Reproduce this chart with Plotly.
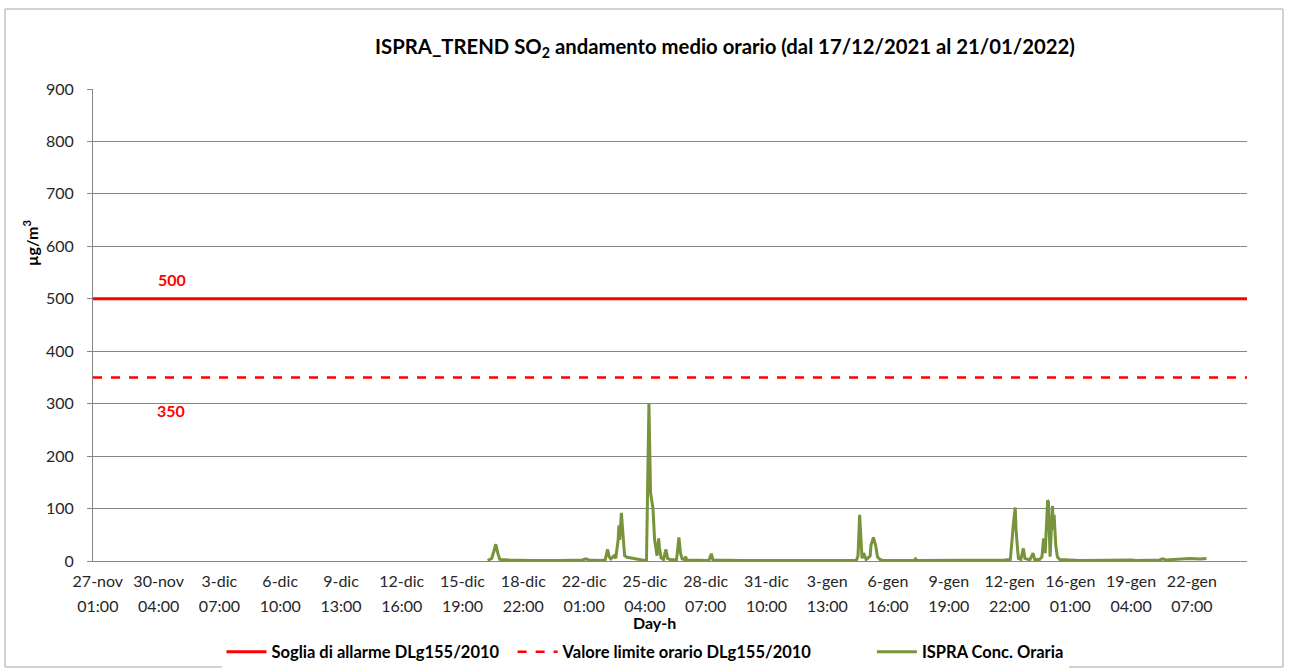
import plotly.graph_objects as go

# ---------------- data ----------------
tick_times = ["2021-11-27 01:00", "2021-11-30 04:00", "2021-12-03 07:00", "2021-12-06 10:00",
              "2021-12-09 13:00", "2021-12-12 16:00", "2021-12-15 19:00", "2021-12-18 22:00",
              "2021-12-22 01:00", "2021-12-25 04:00", "2021-12-28 07:00", "2021-12-31 10:00",
              "2022-01-03 13:00", "2022-01-06 16:00", "2022-01-09 19:00", "2022-01-12 22:00",
              "2022-01-16 01:00", "2022-01-19 04:00", "2022-01-22 07:00"]
tick_days = ["27-nov", "30-nov", "3-dic", "6-dic", "9-dic", "12-dic", "15-dic", "18-dic",
             "22-dic", "25-dic", "28-dic", "31-dic", "3-gen", "6-gen", "9-gen", "12-gen",
             "16-gen", "19-gen", "22-gen"]
tick_hours = ["01:00", "04:00", "07:00", "10:00", "13:00", "16:00", "19:00", "22:00",
              "01:00", "04:00", "07:00", "10:00", "13:00", "16:00", "19:00", "22:00",
              "01:00", "04:00", "07:00"]

x_range = ["2021-11-26 19:00", "2022-01-25 03:00"]

soglia_allarme = 500
valore_limite = 350

ispra_times = [
    "2021-12-17 02:00", "2021-12-17 07:00", "2021-12-17 10:00", "2021-12-17 12:00",
    "2021-12-17 15:00", "2021-12-17 17:00", "2021-12-18 05:00", "2021-12-19 06:00",
    "2021-12-20 19:00", "2021-12-21 23:00", "2021-12-22 03:00", "2021-12-22 07:00",
    "2021-12-22 21:00", "2021-12-23 03:00", "2021-12-23 06:00", "2021-12-23 08:00",
    "2021-12-23 10:00", "2021-12-23 14:00", "2021-12-23 16:00", "2021-12-23 19:00",
    "2021-12-23 20:00", "2021-12-23 21:00", "2021-12-23 23:00", "2021-12-24 01:00",
    "2021-12-24 03:00", "2021-12-24 06:00", "2021-12-24 13:00", "2021-12-24 22:00",
    "2021-12-25 04:00", "2021-12-25 06:00", "2021-12-25 09:00", "2021-12-25 11:00",
    "2021-12-25 14:00", "2021-12-25 16:00", "2021-12-25 19:00", "2021-12-25 21:00",
    "2021-12-25 22:00", "2021-12-26 00:00", "2021-12-26 03:00", "2021-12-26 06:00",
    "2021-12-26 08:00", "2021-12-26 11:00", "2021-12-26 19:00", "2021-12-26 20:00",
    "2021-12-26 22:00", "2021-12-27 00:00", "2021-12-27 02:00", "2021-12-27 05:00",
    "2021-12-27 06:00", "2021-12-27 08:00", "2021-12-28 00:00", "2021-12-28 11:00",
    "2021-12-28 14:00", "2021-12-28 16:00", "2021-12-30 02:00", "2022-01-01 03:00",
    "2022-01-03 12:00", "2022-01-05 01:00", "2022-01-05 03:00", "2022-01-05 05:00",
    "2022-01-05 06:00", "2022-01-05 08:00", "2022-01-05 10:00", "2022-01-05 13:00",
    "2022-01-05 15:00", "2022-01-05 18:00", "2022-01-05 19:00", "2022-01-05 22:00",
    "2022-01-06 01:00", "2022-01-06 03:00", "2022-01-06 06:00", "2022-01-06 10:00",
    "2022-01-08 00:00", "2022-01-08 02:00", "2022-01-08 04:00", "2022-01-08 21:00",
    "2022-01-08 23:00", "2022-01-09 03:00", "2022-01-12 06:00", "2022-01-12 16:00",
    "2022-01-12 23:00", "2022-01-13 02:00", "2022-01-13 03:00", "2022-01-13 05:00",
    "2022-01-13 06:00", "2022-01-13 08:00", "2022-01-13 09:00", "2022-01-13 12:00",
    "2022-01-13 15:00", "2022-01-13 17:00", "2022-01-13 21:00", "2022-01-13 23:00",
    "2022-01-14 03:00", "2022-01-14 05:00", "2022-01-14 11:00", "2022-01-14 14:00",
    "2022-01-14 16:00", "2022-01-14 18:00", "2022-01-14 21:00", "2022-01-14 22:00",
    "2022-01-15 00:00", "2022-01-15 03:00", "2022-01-15 04:00", "2022-01-15 05:00",
    "2022-01-15 07:00", "2022-01-15 09:00", "2022-01-15 12:00", "2022-01-16 13:00",
    "2022-01-19 06:00", "2022-01-19 09:00", "2022-01-20 15:00", "2022-01-20 19:00",
    "2022-01-20 23:00", "2022-01-21 16:00", "2022-01-22 04:00", "2022-01-22 17:00",
    "2022-01-23 01:00",
]
ispra_values = [
    1, 5, 20, 32,
    12, 3, 2, 1,
    1, 2, 4, 2,
    1, 2, 22, 8,
    4, 10, 5, 40,
    68, 40, 92, 50,
    10, 7, 5, 3,
    1, 2, 300, 130,
    100, 40, 10, 43,
    25, 6, 3, 22,
    5, 3, 2, 15,
    45, 15, 4, 3,
    8, 2, 1, 1,
    14, 2, 1, 1,
    2, 1, 10, 88,
    60, 5, 15, 3,
    5, 10, 30, 45,
    28, 8, 3, 1,
    1, 4, 1, 1,
    2, 1, 1, 2,
    3, 62, 75, 102,
    60, 20, 5, 3,
    24, 5, 3, 2,
    15, 3, 3, 8,
    43, 15, 116, 112,
    8, 105, 60, 88,
    30, 8, 3, 1,
    2, 1, 2, 4,
    2, 4, 5, 4,
    5,
]

# ---------------- figure ----------------
FONT = "Lato, 'Open Sans', sans-serif"
RED = "#FF0000"
GREEN = "#77933C"
GRID = "#868686"
W, H = 1289, 672
L, R, T, B = 93, 42, 89, 111
PW, PH = W - L - R, H - T - B
NB = "\u00a0"


def px(xp):
    return (xp - L) / PW


def py(yp):
    return (H - B - yp) / PH


fig = go.Figure()

fig.add_trace(go.Scatter(
    x=x_range, y=[soglia_allarme, soglia_allarme], mode="lines",
    name="<b>Soglia di allarme DLg155/2010</b>" + NB * 2,
    line=dict(color=RED, width=3),
))
fig.add_trace(go.Scatter(
    x=x_range, y=[valore_limite, valore_limite], mode="lines",
    name="<b>Valore limite orario DLg155/2010</b>" + NB * 13,
    line=dict(color=RED, width=2.5, dash="dash"),
))
fig.add_trace(go.Scatter(
    x=ispra_times, y=ispra_values, mode="lines",
    name="<b>ISPRA Conc. Oraria</b>",
    line=dict(color=GREEN, width=3),
))
# invisible helper trace for the second (hour) label axis
fig.add_trace(go.Scatter(
    x=x_range, y=[None, None], xaxis="x2", mode="lines",
    showlegend=False, hoverinfo="skip",
))

fig.update_layout(
    width=W, height=H,
    paper_bgcolor="white", plot_bgcolor="white",
    font=dict(family=FONT, size=16, color="#262626"),
    margin=dict(l=L, r=R, t=T, b=B, autoexpand=False),
    title=dict(
        text="<b>ISPRA_TREND SO<sub>2</sub> andamento medio orario (dal 17/12/2021 al 21/01/2022)</b>",
        x=725 / W, xanchor="center", y=1 - 47 / H, yanchor="middle",
        font=dict(family=FONT, size=20.3, color="#000000"),
    ),
    xaxis=dict(
        type="date", range=x_range,
        tickmode="array", tickvals=tick_times, ticktext=tick_days,
        showgrid=False, zeroline=False,
        showline=True, linecolor=GRID, linewidth=1,
        ticks="", ticklabelstandoff=6,
        tickfont=dict(size=16, color="#262626"),
    ),
    xaxis2=dict(
        type="date", range=x_range, overlaying="x", matches="x", side="bottom",
        anchor="y",
        tickmode="array", tickvals=tick_times, ticktext=tick_hours,
        showgrid=False, zeroline=False, showline=False,
        ticks="", ticklabelstandoff=34,
        tickfont=dict(size=16, color="#262626"),
    ),
    yaxis=dict(
        range=[0, 900], tickmode="linear", tick0=0, dtick=100,
        showgrid=True, gridcolor=GRID, gridwidth=1,
        zeroline=False, showline=True, linecolor=GRID, linewidth=1,
        ticks="outside", ticklen=5, tickcolor=GRID,
        ticklabelstandoff=10,
        tickfont=dict(size=16, color="#262626"),
    ),
    legend=dict(
        orientation="h", xref="container", yref="container",
        x=645 / W, xanchor="center", y=1 - 652 / H, yanchor="middle",
        font=dict(size=16.5, color="#000000"), itemwidth=40,
        traceorder="normal",
    ),
    showlegend=True,
)

# y-axis title
fig.add_annotation(
    text="<b>µg/m<sup>3</sup></b>", xref="paper", yref="paper",
    x=px(30), y=py(243), xanchor="center", yanchor="middle", textangle=-90,
    showarrow=False, font=dict(size=16, color="#000000"),
)

# x-axis title "Day-h"
fig.add_annotation(
    text="<b>Day-h</b>", xref="paper", yref="paper",
    x=px(654), y=py(622), xanchor="center", yanchor="middle",
    showarrow=False, font=dict(size=16, color="#000000"),
)

# value labels for the thresholds
fig.add_annotation(
    text="<b>%d</b>" % soglia_allarme, xref="paper", yref="y",
    x=px(172), y=soglia_allarme, yshift=19, xanchor="center", yanchor="middle",
    showarrow=False, font=dict(size=16, color=RED),
)
fig.add_annotation(
    text="<b>%d</b>" % valore_limite, xref="paper", yref="y",
    x=px(171), y=valore_limite, yshift=-33, xanchor="center", yanchor="middle",
    showarrow=False, font=dict(size=16, color=RED),
)

# outer chart border
fig.add_shape(
    type="rect", xref="paper", yref="paper",
    x0=px(5), x1=px(1283), y0=py(667), y1=py(9),
    line=dict(color="#A6A6A6", width=1), fillcolor="rgba(0,0,0,0)", layer="below",
)

fig.write_html("out.html", config={"displayModeBar": False},
               post_script="document.body.style.margin='0';")
